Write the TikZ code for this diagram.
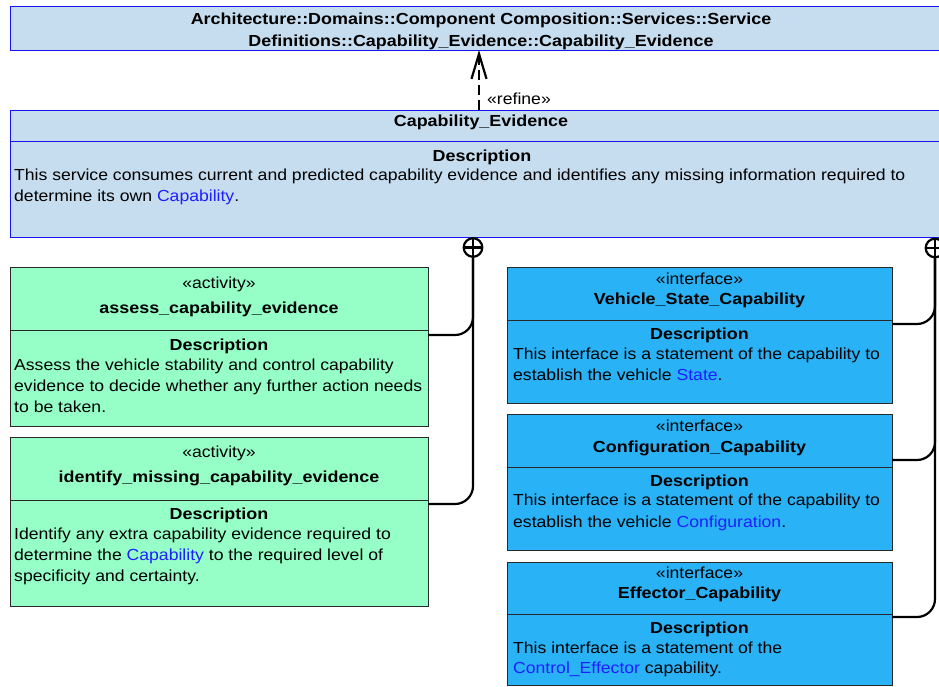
\documentclass[tikz,border=0pt]{standalone}
\usepackage{fontspec}
\setmainfont{Liberation Sans}[FakeStretch=1.1, BoldFeatures={FakeStretch=1.12}]
\usetikzlibrary{arrows.meta}

\definecolor{pkgfill}{RGB}{198,221,240}
\definecolor{pkgedge}{RGB}{20,20,235}
\definecolor{actgreen}{RGB}{150,255,200}
\definecolor{ifblue}{RGB}{41,178,246}
\definecolor{linkblue}{RGB}{30,30,255}
\definecolor{edgegray}{RGB}{40,40,40}

\newcommand{\bodyfont}{\fontsize{16}{21}\selectfont}
\newcommand{\lnk}[1]{\textcolor{linkblue}{#1}}

\tikzset{
  box/.style={draw=edgegray, line width=0.9pt, anchor=north west,
              inner sep=0pt, outer sep=0pt},
  pkgbox/.style={box, draw=pkgedge, fill=pkgfill},
  actbox/.style={box, fill=actgreen},
  ifbox/.style={box, fill=ifblue},
  sep/.style={draw=edgegray, line width=0.9pt},
  pkgsep/.style={draw=pkgedge, line width=0.9pt},
  ctr/.style={anchor=base, inner sep=0pt, font=\bodyfont},
  ctrb/.style={anchor=base, inner sep=0pt, font=\bodyfont\bfseries},
  lft/.style={anchor=base west, inner sep=0pt, font=\bodyfont},
  wire/.style={line width=2.2pt, rounded corners=18pt},
  owned/.style={circle, draw, line width=2.2pt, minimum size=18.6pt,
                inner sep=0pt, outer sep=0pt},
}

\begin{document}
\begin{tikzpicture}[x=1pt, y=-1pt]
\clip (0,0) rectangle (939,686);
\fill[white] (0,0) rectangle (939,686);

% package-qualified service definition
\node[pkgbox, minimum width=942pt, minimum height=44pt] (def) at (10,6) {};
\node[ctrb] (defa) at (481,24) {Architecture::Domains::Component Composition::Services::Service};
\node[ctrb] (defb) at (481,46) {Definitions::Capability\_Evidence::Capability\_Evidence};

% the service block
\node[pkgbox, minimum width=942pt, minimum height=127pt] (svc) at (10,110) {};
\draw[pkgsep] (svc.west |- 0,141) -- (svc.east |- 0,141);
\node[ctrb] (svcname) at (481,126) {Capability\_Evidence};
\node[ctrb] (svcdh) at (482,161) {Description};
\node[lft] (svcd1) at (14,180) {This service consumes current and predicted capability evidence and identifies any missing information required to};
\node[lft] (svcd2) at (14,201) {determine its own \lnk{Capability}.};

% refine dependency
\draw[line width=2.6pt, dash pattern=on 10pt off 5pt,
      -{Straight Barb[length=25pt, width=15pt, line width=2.2pt]}]
  (svc.north -| 479,0) -- (def.south -| 479,0);
\node[anchor=base west, inner sep=0pt, font=\bodyfont] (refine) at (487,104) {«refine»};

% activities
\node[actbox, minimum width=418pt, minimum height=159pt] (act1) at (10,267) {};
\draw[sep] (act1.west |- 0,330) -- (act1.east |- 0,330);
\node[ctr] (act1st) at (219,288) {«activity»};
\node[ctrb] (act1nm) at (219,313) {assess\_capability\_evidence};
\node[ctrb] (act1dh) at (219,350) {Description};
\node[lft] (act1d1) at (14,370) {Assess the vehicle stability and control capability};
\node[lft] (act1d2) at (14,391) {evidence to decide whether any further action needs};
\node[lft] (act1d3) at (14,412) {to be taken.};

\node[actbox, minimum width=418pt, minimum height=169pt] (act2) at (10,437) {};
\draw[sep] (act2.west |- 0,500) -- (act2.east |- 0,500);
\node[ctr] (act2st) at (219,457) {«activity»};
\node[ctrb] (act2nm) at (219,482) {identify\_missing\_capability\_evidence};
\node[ctrb] (act2dh) at (219,519) {Description};
\node[lft] (act2d1) at (14,539) {Identify any extra capability evidence required to};
\node[lft] (act2d2) at (14,560) {determine the \lnk{Capability} to the required level of};
\node[lft] (act2d3) at (14,581) {specificity and certainty.};

% interfaces
\node[ifbox, minimum width=385pt, minimum height=136pt] (if1) at (507,267) {};
\draw[sep] (if1.west |- 0,320) -- (if1.east |- 0,320);
\node[ctr] (if1st) at (699.5,284) {«interface»};
\node[ctrb] (if1nm) at (699.5,304) {Vehicle\_State\_Capability};
\node[ctrb] (if1dh) at (699.5,339) {Description};
\node[lft] (if1d1) at (513,359) {This interface is a statement of the capability to};
\node[lft] (if1d2) at (513,380) {establish the vehicle \lnk{State}.};

\node[ifbox, minimum width=385pt, minimum height=136pt] (if2) at (507,414) {};
\draw[sep] (if2.west |- 0,467) -- (if2.east |- 0,467);
\node[ctr] (if2st) at (699.5,431) {«interface»};
\node[ctrb] (if2nm) at (699.5,452) {Configuration\_Capability};
\node[ctrb] (if2dh) at (699.5,486) {Description};
\node[lft] (if2d1) at (513,505) {This interface is a statement of the capability to};
\node[lft] (if2d2) at (513,527) {establish the vehicle \lnk{Configuration}.};

\node[ifbox, minimum width=385pt, minimum height=123pt] (if3) at (507,562) {};
\draw[sep] (if3.west |- 0,614) -- (if3.east |- 0,614);
\node[ctr] (if3st) at (699.5,578) {«interface»};
\node[ctrb] (if3nm) at (699.5,598) {Effector\_Capability};
\node[ctrb] (if3dh) at (699.5,633) {Description};
\node[lft] (if3d1) at (513,653) {This interface is a statement of the};
\node[lft] (if3d2) at (513,673) {\lnk{Control\_Effector} capability.};

% ownership markers on the service block
\node[owned] (own1) at (473,247.5) {};
\draw[line width=2.2pt] (own1.north) -- (own1.south) (own1.west) -- (own1.east);
\node[owned] (own2) at (935,248) {};
\draw[line width=2.2pt] (own2.north) -- (own2.south) (own2.west) -- (own2.east);

% containment wires
\draw[wire] (act1.east |- 0,335) -- (own1 |- 0,335) -- (own1.south);
\draw[wire] (act2.east |- 0,504) -- (own1 |- 0,504) -- (own1.south);
\draw[wire] (if1.east |- 0,324) -- (own2 |- 0,324) -- (own2.south);
\draw[wire] (if2.east |- 0,460) -- (own2 |- 0,460) -- (own2.south);
\draw[wire] (if3.east |- 0,617) -- (own2 |- 0,617) -- (own2.south);
\end{tikzpicture}
\end{document}
